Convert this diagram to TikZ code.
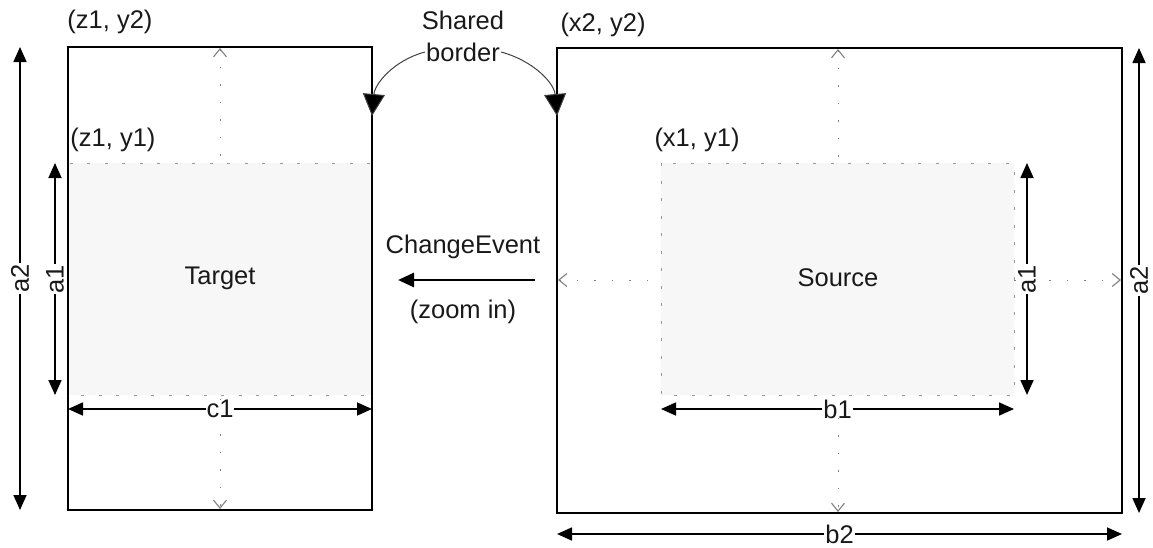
\documentclass[tikz,border=0pt]{standalone}
\usepackage{fontspec}
\setmainfont{Liberation Sans}
\usetikzlibrary{arrows.meta}
\begin{document}
\begin{tikzpicture}[x=1pt,y=-1pt,
  frame/.style={draw=black,line width=1.8pt},
  zone/.style={fill=black!3,draw=black!40,line width=1pt,dash pattern=on 3pt off 14.5pt},
  axis/.style={draw=black!50,line width=1pt,dash pattern=on 1.5pt off 16pt,
    {Straight Barb[length=8pt,width=13pt,line width=1.1pt]}-{Straight Barb[length=8pt,width=13pt,line width=1.1pt]}},
  dim/.style={line width=1.7pt,{Triangle[length=15pt,width=13pt]}-{Triangle[length=15pt,width=13pt]}},
  lbl/.style={font=\fontsize{25.5}{30}\selectfont,inner sep=1pt,text=black!90},
  dimlbl/.style={lbl,fill=white,inner xsep=1pt,inner ysep=0pt},
  callout/.style={draw=black!75,line width=1pt,-{Triangle[length=22pt,width=22pt,fill=black]}},
  event/.style={line width=2.8pt,-{Triangle[length=16pt,width=14pt]}},
]
\useasboundingbox (0,0) rectangle (1153,547);

% corners of the two windows and their inner regions
\coordinate (tTL) at (68,47);   \coordinate (tBR) at (372,510);
\coordinate (tzTL) at (68,163); \coordinate (tzBR) at (372,395);
\coordinate (sTL) at (557,48);  \coordinate (sBR) at (1122,513);
\coordinate (szTL) at (661,163);\coordinate (szBR) at (1014,395);

% centre axes
\coordinate (tAxT) at (220,48);  \coordinate (tAxB) at (220,509);
\coordinate (sAxT) at (838,49);  \coordinate (sAxB) at (838,512);
\coordinate (sAxL) at (558,280); \coordinate (sAxR) at (1121,280);
\draw[axis] (tAxT) -- (tAxB);
\draw[axis] (sAxT) -- (sAxB);
\draw[axis] (sAxL) -- (sAxR);

% inner regions
\draw[zone] (tzTL) rectangle (tzBR);
\draw[zone] (szTL) rectangle (szBR);

% window frames
\draw[frame] (tTL) rectangle (tBR);
\draw[frame] (sTL) rectangle (sBR);

% dimension arrows
\coordinate (a2lT) at (20,47);   \coordinate (a2lB) at (20,510);
\coordinate (a1lT) at (55,163);  \coordinate (a1lB) at (55,395);
\coordinate (c1L) at (68,409);   \coordinate (c1R) at (372,409);
\coordinate (a1rT) at (1027,163);\coordinate (a1rB) at (1027,395);
\coordinate (a2rT) at (1139,48); \coordinate (a2rB) at (1139,513);
\coordinate (b1L) at (661,409);  \coordinate (b1R) at (1014,409);
\coordinate (b2L) at (557,534);  \coordinate (b2R) at (1122,534);

\draw[dim] (a2lT) -- node[dimlbl,rotate=90] (la2l) {a2} (a2lB);
\draw[dim] (a1lT) -- node[dimlbl,rotate=90] (la1l) {a1} (a1lB);
\draw[dim] (c1L) -- node[dimlbl] (lc1) {c1} (c1R);
\draw[dim] (a1rT) -- node[dimlbl,rotate=90] (la1r) {a1} (a1rB);
\draw[dim] (a2rT) -- node[dimlbl,rotate=90] (la2r) {a2} (a2rB);
\draw[dim] (b1L) -- node[dimlbl] (lb1) {b1} (b1R);
\draw[dim] (b2L) -- node[dimlbl] (lb2) {b2} (b2R);

% corner labels
\node[lbl] (z1y2) at (110,22) {(z1, y2)};
\node[lbl] (z1y1) at (113,140) {(z1, y1)};
\node[lbl] (x2y2) at (603,25) {(x2, y2)};
\node[lbl] (x1y1) at (697,140) {(x1, y1)};

% window names
\node[lbl] (target) at (220,278) {Target};
\node[lbl] (source) at (838,278) {Source};

% shared border callout
\node[lbl] (shared) at (463,20) {Shared};
\node[lbl] (border) at (463,52) {border};
\coordinate (bordL) at (372,116);
\coordinate (bordR) at (557,116);
\draw[callout] (border.west) to[out=195,in=85] (bordL);
\draw[callout] (border.east) to[out=-15,in=95] (bordR);

% change event
\node[lbl] (evt) at (463,247) {ChangeEvent};
\node[lbl] (zoom) at (463,312) {(zoom in)};
\coordinate (evS) at (535,280);
\coordinate (evE) at (398,280);
\draw[event] (evS) -- (evE);
\end{tikzpicture}
\end{document}
